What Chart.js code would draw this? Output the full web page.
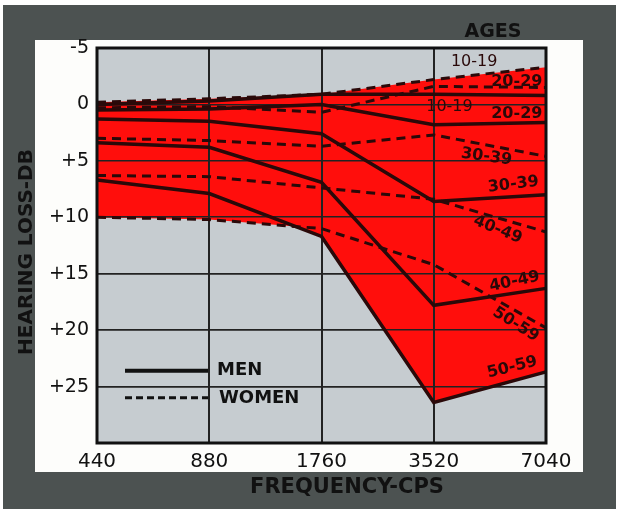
<!DOCTYPE html>
<html>
<head>
<meta charset="utf-8">
<script src="https://cdn.jsdelivr.net/npm/chart.js@4/dist/chart.umd.min.js"></script>
<style>
  html, body { margin: 0; padding: 0; background: #fff; }
  canvas { display: block; }
</style>
</head>
<body>
<canvas id="hearingChart" width="618" height="511"></canvas>
<script>
// Frequencies (cps) and hearing loss (dB) by age group
const FREQS = ['440', '880', '1760', '3520', '7040'];
const Y_TICKS = [-5, 0, 5, 10, 15, 20, 25];

const WOMEN_10_19 = [-0.2, -0.5, -0.9, -2.2, -3.3];
const WOMEN_20_29 = [0.3, 0.2, 0.7, -1.6, -1.5];
const WOMEN_30_39 = [3.0, 3.2, 3.7, 2.7, 4.6];
const WOMEN_40_49 = [6.3, 6.4, 7.4, 8.4, 11.3];
const WOMEN_50_59 = [10.0, 10.2, 11.0, 14.2, 19.8];

const MEN_10_19 = [0.0, -0.3, -0.9, -0.9, -0.8];
const MEN_20_29 = [0.5, 0.4, 0.0, 1.8, 1.6];
const MEN_30_39 = [1.3, 1.5, 2.6, 8.6, 8.0];
const MEN_40_49 = [3.4, 3.8, 6.9, 17.8, 16.3];
const MEN_50_59 = [6.7, 7.9, 11.7, 26.4, 23.7];

const AGE_LABELS = ['10-19', '20-29', '30-39', '40-49', '50-59'];

const RED = 'rgb(255, 14, 12)';
const INK = '#2a0909';
const FONT = "'DejaVu Sans', sans-serif";

function womenLine(data, label, fill) {
    return {
        label: 'Women ' + label,
        data: data,
        borderColor: INK,
        borderWidth: 3,
        borderDash: [9, 6],
        backgroundColor: RED,
        fill: fill,
        pointRadius: 0,
        tension: 0
    };
}

function menLine(data, label) {
    return {
        label: 'Men ' + label,
        data: data,
        borderColor: INK,
        borderWidth: 3.5,
        backgroundColor: RED,
        fill: false,
        pointRadius: 0,
        tension: 0
    };
}

// background frame, gray plot area
const framePlugin = {
    id: 'frame',
    beforeDraw(chart) {
        const ctx = chart.ctx;
        const a = chart.chartArea;
        ctx.save();
        ctx.fillStyle = '#ffffff';
        ctx.fillRect(0, 0, chart.width, chart.height);
        ctx.fillStyle = '#4c5251';
        ctx.fillRect(3, 5, 613, 504);
        ctx.fillStyle = '#fdfdfb';
        ctx.fillRect(35, 40, 548, 432);
        ctx.fillStyle = '#c6ccd0';
        ctx.fillRect(a.left, a.top, a.right - a.left, a.bottom - a.top);
        ctx.restore();
    },
    // grid on top of the red fill, under the lines
    beforeDatasetsDraw(chart) {
        chart.scales.x.drawGrid(chart.chartArea);
        chart.scales.y.drawGrid(chart.chartArea);
    },
    afterDatasetsDraw(chart) {
        const ctx = chart.ctx;
        const a = chart.chartArea;
        const x = chart.scales.x;
        const y = chart.scales.y;
        ctx.save();

        // plot border
        ctx.strokeStyle = '#111';
        ctx.lineWidth = 3;
        ctx.strokeRect(a.left, a.top, a.right - a.left, a.bottom - a.top);

        // age labels at the right side: [text, x index, dB, angle, bold]
        const tags = [
            [AGE_LABELS[0], 3.36, -3.75, 0, false],
            [AGE_LABELS[1], 3.74, -2.0, 0, true],
            [AGE_LABELS[0], 3.14, 0.2, 0, false],
            [AGE_LABELS[1], 3.74, 0.85, 0, true],
            [AGE_LABELS[2], 3.47, 4.65, 8, true],
            [AGE_LABELS[2], 3.71, 7.1, -7, true],
            [AGE_LABELS[3], 3.57, 11.1, 22, true],
            [AGE_LABELS[3], 3.72, 15.7, -12, true],
            [AGE_LABELS[4], 3.73, 19.5, 32, true],
            [AGE_LABELS[4], 3.70, 23.3, -14, true]
        ];
        ctx.fillStyle = INK;
        ctx.textAlign = 'center';
        ctx.textBaseline = 'middle';
        tags.forEach(t => {
            ctx.save();
            ctx.translate(x.getPixelForValue(t[1]), y.getPixelForValue(t[2]));
            ctx.rotate(t[3] * Math.PI / 180);
            ctx.font = (t[4] ? 'bold ' : '') + '16px ' + FONT;
            ctx.fillText(t[0], 0, 0);
            ctx.restore();
        });

        // legend inside the plot
        const lx = a.left + 28;
        const ly1 = y.getPixelForValue(23.6);
        const ly2 = y.getPixelForValue(26.0);
        ctx.strokeStyle = '#111';
        ctx.lineWidth = 4;
        ctx.beginPath();
        ctx.moveTo(lx, ly1);
        ctx.lineTo(lx + 83, ly1);
        ctx.stroke();
        ctx.lineWidth = 3;
        ctx.setLineDash([7, 4]);
        ctx.beginPath();
        ctx.moveTo(lx, ly2);
        ctx.lineTo(lx + 83, ly2);
        ctx.stroke();
        ctx.setLineDash([]);
        ctx.fillStyle = '#111';
        ctx.textAlign = 'left';
        ctx.font = 'bold 18px ' + FONT;
        ctx.fillText('MEN', lx + 92, ly1);
        ctx.fillText('WOMEN', lx + 94, ly2);

        ctx.restore();
    },
    afterDraw(chart) {
        const ctx = chart.ctx;
        ctx.save();
        ctx.fillStyle = '#111';
        ctx.textAlign = 'center';
        ctx.textBaseline = 'middle';
        ctx.font = 'bold 19px ' + FONT;
        ctx.fillText('AGES', 493, 32);
        ctx.font = 'bold 21px ' + FONT;
        ctx.fillText('FREQUENCY-CPS', 347, 488);
        ctx.translate(27, 252);
        ctx.rotate(-Math.PI / 2);
        ctx.font = 'bold 20px ' + FONT;
        ctx.fillText('HEARING LOSS-DB', 0, 0);
        ctx.restore();
    }
};

const ctx = document.getElementById('hearingChart').getContext('2d');
new Chart(ctx, {
    type: 'line',
    data: {
        labels: FREQS,
        datasets: [
            womenLine(WOMEN_10_19, AGE_LABELS[0], 9),
            womenLine(WOMEN_20_29, AGE_LABELS[1], false),
            womenLine(WOMEN_30_39, AGE_LABELS[2], false),
            womenLine(WOMEN_40_49, AGE_LABELS[3], false),
            womenLine(WOMEN_50_59, AGE_LABELS[4], 9),
            menLine(MEN_10_19, AGE_LABELS[0]),
            menLine(MEN_20_29, AGE_LABELS[1]),
            menLine(MEN_30_39, AGE_LABELS[2]),
            menLine(MEN_40_49, AGE_LABELS[3]),
            menLine(MEN_50_59, AGE_LABELS[4])
        ]
    },
    options: {
        responsive: false,
        animation: false,
        devicePixelRatio: 1,
        layout: { padding: { left: 0, top: 48, right: 72, bottom: 0 } },
        plugins: {
            legend: { display: false },
            tooltip: { enabled: false },
            filler: { drawTime: 'beforeDatasetsDraw' }
        },
        scales: {
            x: {
                offset: false,
                grid: { color: '#222', lineWidth: 2, drawTicks: false },
                border: { display: false },
                ticks: {
                    color: '#111',
                    padding: 7,
                    maxRotation: 0,
                    font: { family: FONT, size: 20 }
                },
                afterFit(scale) { scale.height = 68; }
            },
            y: {
                reverse: true,
                min: -5,
                max: 30,
                afterBuildTicks(scale) {
                    scale.ticks = Y_TICKS.concat([30]).map(v => ({ value: v }));
                },
                grid: { color: '#222', lineWidth: 1.6, drawTicks: false },
                border: { display: false },
                ticks: {
                    color: '#111',
                    padding: 8,
                    font: { family: FONT, size: 19 },
                    callback: v => (Y_TICKS.includes(v) ? (v > 0 ? '+' + v : String(v)) : '')
                },
                afterFit(scale) { scale.width = 97; }
            }
        }
    },
    plugins: [framePlugin]
});
</script>
</body>
</html>
